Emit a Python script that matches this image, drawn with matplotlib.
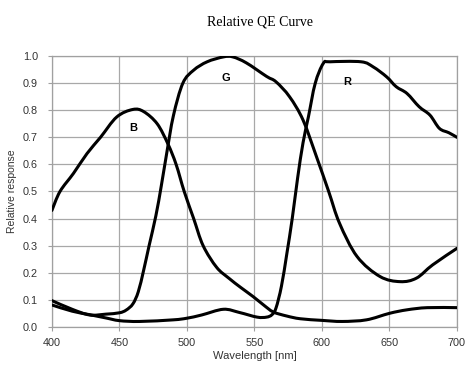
import matplotlib
matplotlib.use("Agg")
import matplotlib.pyplot as plt
from matplotlib.path import Path
from matplotlib.patches import PathPatch

# wavelength [nm] / relative response
wl_b = [400, 406, 416, 426, 436, 448, 460, 468, 478, 486, 492, 498, 505, 512,
        522, 531, 540, 549, 557, 564, 574, 584, 600, 615, 633, 650, 663, 678, 700]
b = [0.43, 0.50, 0.567, 0.64, 0.70, 0.775, 0.803, 0.795, 0.75, 0.675, 0.60, 0.50,
     0.40, 0.30, 0.22, 0.18, 0.145, 0.112, 0.08, 0.055, 0.04, 0.03, 0.024, 0.02,
     0.026, 0.05, 0.063, 0.071, 0.071]

wl_g = [400, 415, 428, 440, 450, 455, 460, 464, 468, 472, 477, 481, 485,
        490, 497, 505, 515, 527, 534, 544, 559, 566, 576, 586, 596, 605, 613,
        626, 643, 658, 670, 682, 700]
g = [0.097, 0.065, 0.044, 0.047, 0.052, 0.062, 0.085, 0.13, 0.21, 0.30, 0.41,
     0.52, 0.64, 0.78, 0.90, 0.948, 0.979, 0.997, 0.997, 0.975, 0.925,
     0.905, 0.85, 0.764, 0.628, 0.50, 0.383, 0.26, 0.186, 0.167, 0.18, 0.229, 0.29]

wl_r = [400, 415, 428, 440, 450, 465, 490, 500, 511, 527, 539, 552, 559, 563,
        566, 570, 574, 578, 582, 586, 590, 595, 601, 606, 629, 638, 648, 655, 663,
        672, 680, 687, 694, 700]
r = [0.081, 0.058, 0.045, 0.033, 0.023, 0.02, 0.026, 0.032, 0.044, 0.065, 0.053,
     0.036, 0.036, 0.045, 0.07, 0.15, 0.27, 0.40, 0.55, 0.68, 0.776, 0.899, 0.973,
     0.979, 0.979, 0.96, 0.923, 0.887, 0.862, 0.813, 0.782, 0.733, 0.717, 0.70]

labels = {"B": (460, 0.734), "G": (529, 0.919), "R": (618.5, 0.904)}

xticks = [400, 450, 500, 550, 600, 650, 700]
yticks = [0.0, 0.1, 0.2, 0.3, 0.4, 0.5, 0.6, 0.7, 0.8, 0.9, 1.0]


def smooth_path(xs, ys, t=1 / 6):
    # Excel-style smoothed line: cubic bezier through every point
    n = len(xs)
    verts = [(xs[0], ys[0])]
    codes = [Path.MOVETO]
    for i in range(n - 1):
        x0, y0 = xs[max(i - 1, 0)], ys[max(i - 1, 0)]
        x1, y1 = xs[i], ys[i]
        x2, y2 = xs[i + 1], ys[i + 1]
        x3, y3 = xs[min(i + 2, n - 1)], ys[min(i + 2, n - 1)]
        verts += [(x1 + (x2 - x0) * t, y1 + (y2 - y0) * t),
                  (x2 - (x3 - x1) * t, y2 - (y3 - y1) * t),
                  (x2, y2)]
        codes += [Path.CURVE4] * 3
    return Path(verts, codes)


fig = plt.figure(figsize=(4.76, 3.74), dpi=100)
ax = fig.add_axes([0.109, 0.126, 0.851, 0.724])

for x, y in [(wl_b, b), (wl_g, g), (wl_r, r)]:
    ax.add_patch(PathPatch(smooth_path(x, y), fill=False, edgecolor="black",
                           lw=2.2, capstyle="round", joinstyle="round", zorder=3))

for name, (x, y) in labels.items():
    ax.text(x, y, name, fontsize=8, fontweight="bold", ha="center", va="center",
            family="Liberation Sans")

ax.set_xlim(400, 700)
ax.set_ylim(0, 1.0)
ax.set_xticks(xticks)
ax.set_yticks(yticks)
ax.set_yticklabels([f"{v:.1f}" for v in yticks])
ax.grid(True, color="#a8a8a8", lw=0.9)
for sp in ax.spines.values():
    sp.set_color("#a0a0a0")
    sp.set_linewidth(0.9)
ax.tick_params(length=3, color="#a0a0a0", labelsize=7.8, labelcolor="#333333")
ax.tick_params(axis="y", pad=7)
ax.tick_params(axis="x", pad=5)
for t in ax.get_xticklabels() + ax.get_yticklabels():
    t.set_family("Liberation Sans")

ax.set_xlabel("Wavelength [nm]", fontsize=8, color="#333333",
              family="Liberation Sans", labelpad=2)
ax.set_ylabel("Relative response", fontsize=7.5, color="#333333",
              family="Liberation Sans", labelpad=4)

fig.text(0.546, 0.94, "Relative QE Curve", ha="center", va="center",
         fontsize=10, family="Liberation Serif")

fig.savefig("out.png", dpi=100)
